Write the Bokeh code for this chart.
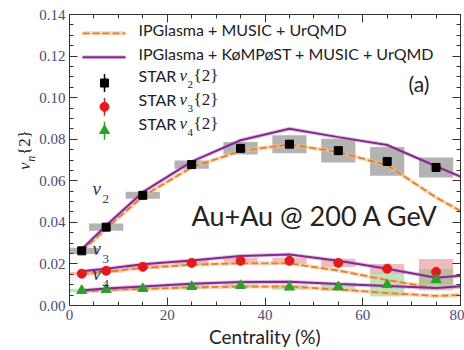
import numpy as np
from bokeh.plotting import figure
from bokeh.layouts import row
from bokeh.models import (Label, LinearAxis, SingleIntervalTicker, PrintfTickFormatter,
                          CustomJSTickFormatter)
from bokeh.embed import file_html
from bokeh.resources import INLINE

# ---------------- data ----------------
cent = [2.5, 7.5, 15, 25, 35, 45, 55, 65, 75]
star_v2 = [0.0263, 0.0377, 0.0530, 0.0678, 0.0756, 0.0776, 0.0745, 0.0693, 0.0664]
star_v2_sys = [0.0015, 0.0017, 0.0017, 0.0020, 0.0030, 0.0043, 0.0057, 0.0069, 0.0048]
star_v3 = [0.0153, 0.0167, 0.0186, 0.0205, 0.0215, 0.0215, 0.0205, 0.0177, 0.0162]
star_v3_sys = [0.0008, 0.0008, 0.0010, 0.0012, 0.0013, 0.0015, 0.0020, 0.0023, 0.0062]
star_v4 = [0.0072, 0.0076, 0.0081, 0.0091, 0.0096, 0.0088, 0.0090, 0.0100, 0.0124]
star_v4_sys = [0.0008, 0.0008, 0.0008, 0.0010, 0.0010, 0.0012, 0.0020, 0.0057, 0.0052]

model_cent = [2.5, 7.5, 15, 25, 35, 45, 55, 65, 75, 80]
kompost_v2 = [0.0270, 0.0385, 0.0545, 0.0692, 0.0795, 0.0850, 0.0810, 0.0772, 0.0670, 0.0620]
kompost_v3 = [0.0165, 0.0177, 0.0198, 0.0217, 0.0238, 0.0245, 0.0215, 0.0177, 0.0134, 0.0143]
kompost_v4 = [0.0072, 0.0082, 0.0092, 0.0105, 0.0113, 0.0114, 0.0103, 0.0094, 0.0084, 0.0093]
glasma_v2 = [0.0260, 0.0370, 0.0525, 0.0665, 0.0743, 0.0775, 0.0738, 0.0675, 0.0520, 0.0455]
glasma_v3 = [0.0153, 0.0162, 0.0181, 0.0196, 0.0203, 0.0203, 0.0168, 0.0122, 0.0083, 0.0090]
glasma_v4 = [0.0067, 0.0074, 0.0080, 0.0087, 0.0091, 0.0091, 0.0077, 0.0060, 0.0046, 0.0050]

legend_labels = ["IPGlasma + MUSIC + UrQMD", "IPGlasma + KøMPøST + MUSIC + UrQMD"]

ORANGE = "#e0802c"
PURPLE = "#85298c"
TEXT = "#222222"
TICK = "#4a4a78"
SANS = "Lato"
SERIF = "Liberation Serif"

# geometry (pixels)
W, H = 464, 350
LABW = 36                      # width of the narrow panel holding the y-axis title
FL, FR, FT, FB = 69, 460, 14, 307
def px(xp):
    return (xp - FL) / (FR - FL) * 80.0
def py(yp):
    return (FB - yp) / (FB - FT) * 0.14

# ---------------- y-axis title panel ----------------
lab = figure(width=LABW, height=H, x_range=(0, LABW), y_range=(0, H),
             output_backend="svg", toolbar_location=None, min_border=0)
lab.axis.visible = False
lab.grid.visible = False
lab.outline_line_color = None
lab.background_fill_color = "white"
lab.border_fill_color = "white"
lab.add_layout(Label(x=33, y=H - 187, text="v", angle=np.pi / 2, text_font=SERIF,
                     text_font_style="italic", text_font_size="17px", text_color=TEXT))
lab.add_layout(Label(x=37, y=H - 177, text="n", angle=np.pi / 2, text_font=SERIF,
                     text_font_style="italic", text_font_size="12px", text_color=TEXT))
lab.add_layout(Label(x=33, y=H - 169, text="{2}", angle=np.pi / 2, text_font=SERIF,
                     text_font_size="17px", text_color=TEXT))

# ---------------- main plot ----------------
p = figure(width=W - LABW, height=H, x_range=(0, 80), y_range=(0, 0.14),
           output_backend="svg", toolbar_location=None,
           min_border_left=FL - LABW, min_border_right=W - FR,
           min_border_top=FT, min_border_bottom=H - FB)
p.xgrid.visible = False
p.ygrid.visible = False
p.outline_line_color = "#333333"
p.background_fill_color = "white"
p.border_fill_color = "white"

p.xaxis.ticker = SingleIntervalTicker(interval=20, num_minor_ticks=4)
p.yaxis.ticker = SingleIntervalTicker(interval=0.02, num_minor_ticks=4)
p.yaxis.formatter = PrintfTickFormatter(format="%.2f")

def style_axis(ax, labels=True):
    ax.axis_line_color = "#333333"
    ax.major_tick_line_color = "#333333"
    ax.minor_tick_line_color = "#333333"
    ax.major_tick_in = 8
    ax.major_tick_out = 0
    ax.minor_tick_in = 4
    ax.minor_tick_out = 0
    ax.major_label_text_font = SERIF
    ax.major_label_text_font_size = "15px"
    ax.major_label_text_color = TICK
    ax.major_label_standoff = 4 if labels else 0
    if not labels:
        ax.formatter = CustomJSTickFormatter(code="return '';")

for ax in p.xaxis + p.yaxis:
    style_axis(ax)

p.xaxis.axis_label = "Centrality (%)"
p.xaxis.axis_label_text_font = SANS
p.xaxis.axis_label_text_font_size = "19px"
p.xaxis.axis_label_text_font_style = "normal"
p.xaxis.axis_label_text_color = TEXT
p.xaxis.axis_label_standoff = 2

ra = LinearAxis(ticker=SingleIntervalTicker(interval=0.02, num_minor_ticks=4))
ta = LinearAxis(ticker=SingleIntervalTicker(interval=20, num_minor_ticks=4))
style_axis(ra, labels=False)
style_axis(ta, labels=False)
p.add_layout(ra, "right")
p.add_layout(ta, "above")

# ---------------- systematic boxes ----------------
c = np.array(cent)
hw = 3.5
for vals, sys, col, alpha in [(star_v2, star_v2_sys, "#9a9a9a", 0.75),
                              (star_v3, star_v3_sys, "#e36b6b", 0.45),
                              (star_v4, star_v4_sys, "#6cc46c", 0.45)]:
    v = np.array(vals); s = np.array(sys)
    p.quad(left=c - hw, right=c + hw, bottom=v - s, top=v + s,
           fill_color=col, fill_alpha=alpha, line_color=None)

# ---------------- model curves ----------------
for ys in [glasma_v2, glasma_v3, glasma_v4]:
    p.line(model_cent, ys, line_color="#f2c08e", line_width=4, line_alpha=0.6)
    p.line(model_cent, ys, line_color=ORANGE, line_width=1.8, line_dash="7 3")
for ys in [kompost_v2, kompost_v3, kompost_v4]:
    p.line(model_cent, ys, line_color="#c58fc9", line_width=4, line_alpha=0.5)
    p.line(model_cent, ys, line_color=PURPLE, line_width=2)

# ---------------- data points ----------------
p.scatter(cent, star_v2, marker="square", size=8, fill_color="black", line_color="black")
p.scatter(cent, star_v3, marker="circle", size=9, fill_color="#e31a1c", line_color="#e31a1c")
p.scatter(cent, star_v4, marker="triangle", size=10, fill_color="#2ca02c", line_color="#2ca02c")

# ---------------- legend (manual) ----------------
lx0, lx1 = px(82), px(125)
p.line([lx0, lx1], [py(33), py(33)], line_color="#f2c08e", line_width=4, line_alpha=0.6)
p.line([lx0, lx1], [py(33), py(33)], line_color=ORANGE, line_width=1.8, line_dash="7 3")
p.line([lx0, lx1], [py(57), py(57)], line_color="#c58fc9", line_width=4, line_alpha=0.5)
p.line([lx0, lx1], [py(57), py(57)], line_color=PURPLE, line_width=2)
for i, lab_text in enumerate(legend_labels):
    p.add_layout(Label(x=px(138), y=py(39 + 24 * i), text=lab_text, text_font=SANS,
                       text_font_size="16px", text_color=TEXT))

mk = [("square", "black", 8), ("circle", "#e31a1c", 9), ("triangle", "#2ca02c", 10)]
for i, (m, col, sz) in enumerate(mk):
    yc = 83 + 24 * i
    p.segment(x0=[px(104)], y0=[py(yc - 9)], x1=[px(104)], y1=[py(yc + 9)], line_color=col, line_width=1.5)
    p.scatter([px(104)], [py(yc)], marker=m, size=sz, fill_color=col, line_color=col)
    yb = 85 + 24 * i
    p.add_layout(Label(x=px(138), y=py(yb), text="STAR", text_font=SANS, text_font_size="16px", text_color=TEXT))
    p.add_layout(Label(x=px(179), y=py(yb), text="v", text_font=SERIF, text_font_style="italic",
                       text_font_size="17px", text_color=TEXT))
    p.add_layout(Label(x=px(187), y=py(yb + 3), text=str(i + 2), text_font=SERIF,
                       text_font_size="11px", text_color=TEXT))
    p.add_layout(Label(x=px(193), y=py(yb), text="{2}", text_font=SERIF,
                       text_font_size="17px", text_color=TEXT))

# ---------------- annotations ----------------
for i, yb in enumerate([200, 260, 285]):
    p.add_layout(Label(x=px(92), y=py(yb), text="v", text_font=SERIF, text_font_style="italic",
                       text_font_size="19px", text_color="#333355"))
    p.add_layout(Label(x=px(102), y=py(yb + 4), text=str(i + 2), text_font=SERIF,
                       text_font_size="13px", text_color="#333355"))

p.add_layout(Label(x=px(191), y=py(233), text="Au+Au @ 200 A GeV", text_font=SANS,
                   text_font_size="27px", text_color=TEXT))
p.add_layout(Label(x=px(408), y=py(96), text="(a)", text_font=SANS,
                   text_font_size="21px", text_color=TEXT))

layout = row(lab, p, spacing=0)
open("out.html", "w").write(file_html(layout, INLINE))
